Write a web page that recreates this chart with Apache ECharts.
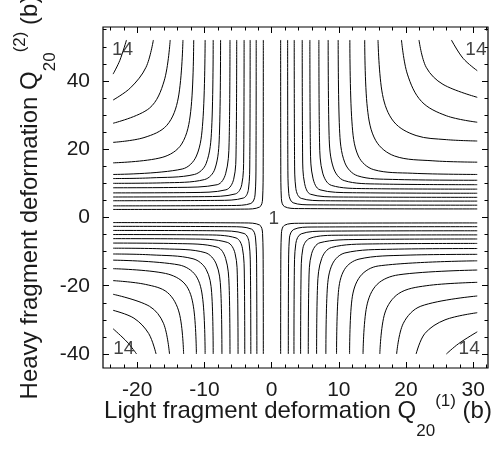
<!DOCTYPE html>
<html>
<head>
<meta charset="utf-8">
<script src="https://cdn.jsdelivr.net/npm/echarts@6/dist/echarts.min.js"></script>
<style>
  html, body { margin: 0; padding: 0; background: #fff; }
  #chart { width: 498px; height: 450px; }
</style>
</head>
<body>
<div id="chart"></div>
<script>
// Axis ticks (data units)
const xMajorTicks = [-20, -10, 0, 10, 20, 30];
const xMinorTicks = [-24, -22, -18, -16, -14, -12, -8, -6, -4, -2, 2, 4, 6, 8, 12, 14, 16, 18, 22, 24, 26, 28, 32];
const yMajorTicks = [-40, -20, 0, 20, 40];
const yMinorTicks = [-35, -30, -25, -15, -10, -5, 5, 10, 15, 25, 30, 35, 45, 50, 55];

// Contour levels, innermost (1) to outermost (14)
const contourLevels = [1, 2, 3, 4, 5, 6, 7, 8, 9, 10, 11, 12, 13, 14];

// Contour paths per quadrant, one polyline per level, [Q20(1), Q20(2)] in barn
const contoursUR = [
  [[1.34,52],[1.36,15],[1.45,5.5],[1.9,3.2],[4,2.6],[30.6,2.5]],
  [[2.38,52],[2.41,16],[2.55,7],[3.2,4.3],[6,3.7],[30.6,3.6]],
  [[3.36,52],[3.41,17],[3.6,8.5],[4.4,5.6],[8,4.9],[30.6,4.8]],
  [[4.55,52],[4.61,18],[4.9,10],[5.8,6.8],[10,6.0],[30.6,5.9]],
  [[5.69,52],[5.77,20],[6.15,11.5],[7.2,8.1],[12,7.25],[30.6,7.1]],
  [[7.03,52],[7.13,22],[7.6,13],[8.9,9.4],[14,8.45],[30.6,8.3]],
  [[8.41,52],[8.55,24],[9.2,14.5],[10.8,10.8],[16,9.8],[30.6,9.6]],
  [[9.90,52],[10.1,26],[10.9,16],[12.8,12.2],[18,11.15],[30.6,10.9]],
  [[11.64,52],[11.95,28],[12.9,18],[15.2,14],[21,12.95],[30.6,12.6]],
  [[13.85,52],[14.25,32],[15.5,22.5],[18.3,18],[24,16.6],[30.6,16.2]],
  [[15.83,52],[16.5,36],[18.2,28],[21.5,24],[26,22.8],[30.6,22.4]],
  [[19.32,52],[20.2,42],[22.3,34],[26,29.8],[30.6,27.9]],
  [[21.93,52],[23,44],[25.5,39],[30.6,35.2]],
  [[26.75,52],[28.5,46.6],[30.6,43.0]]
];
const contoursUL = [
  [[-1.24,52],[-1.26,15],[-1.35,5.4],[-1.8,3.05],[-4,2.45],[-23.6,2.35]],
  [[-2.3,52],[-2.33,16],[-2.47,6.6],[-3.1,4.1],[-6,3.5],[-23.6,3.4]],
  [[-3.2,52],[-3.25,17],[-3.45,8.3],[-4.2,5.7],[-8,5.0],[-23.6,4.9]],
  [[-4.1,52],[-4.16,18],[-4.45,9.6],[-5.4,6.9],[-10,6.1],[-23.6,6.0]],
  [[-5.2,52],[-5.29,20],[-5.65,11.2],[-6.8,8.1],[-12,7.3],[-23.6,7.2]],
  [[-6.2,52],[-6.33,22],[-6.85,12.8],[-8.1,9.6],[-14,8.8],[-23.6,8.7]],
  [[-7.6,52],[-7.78,24],[-8.45,14.2],[-10,11.1],[-16,10.15],[-23.6,10.0]],
  [[-8.7,52],[-8.93,26],[-9.75,15.8],[-11.5,12.6],[-18,11.6],[-23.6,11.4]],
  [[-9.9,52],[-10.25,28],[-11.2,18],[-13.3,14.2],[-23.6,12.6]],
  [[-11.6,52],[-12.05,31],[-13.4,21.5],[-16.3,17.6],[-23.6,16.0]],
  [[-13.2,52],[-13.9,35],[-15.6,27],[-19,23.4],[-23.6,22.0]],
  [[-15.1,52],[-16,40],[-18.2,32],[-23.6,27.6]],
  [[-17.6,52],[-18.7,44],[-21,38],[-23.6,34.4]],
  [[-21.6,52],[-22.6,46],[-23.6,42.0]]
];
const contoursLL = [
  [[-1.24,-40],[-1.26,-15],[-1.35,-4.7],[-1.8,-2.2],[-4,-1.6],[-23.6,-1.5]],
  [[-2.2,-40],[-2.23,-16],[-2.4,-6],[-3.0,-3.4],[-6,-2.7],[-23.6,-2.6]],
  [[-3.1,-40],[-3.15,-17],[-3.35,-7.5],[-4.1,-4.7],[-8,-3.9],[-23.6,-3.8]],
  [[-4.0,-40],[-4.06,-18],[-4.35,-9],[-5.3,-6.0],[-10,-5.1],[-23.6,-5.0]],
  [[-5.0,-40],[-5.09,-19],[-5.45,-10.5],[-6.6,-7.3],[-12,-6.3],[-23.6,-6.2]],
  [[-6.2,-40],[-6.33,-20],[-6.85,-12],[-8.1,-8.7],[-14,-7.65],[-23.6,-7.5]],
  [[-7.4,-40],[-7.58,-21],[-8.25,-13.6],[-9.9,-10.3],[-16,-9.2],[-23.6,-9.0]],
  [[-8.7,-40],[-8.93,-22],[-9.75,-15.2],[-11.7,-12.1],[-18,-10.95],[-23.6,-10.7]],
  [[-9.9,-40],[-10.25,-24],[-11.3,-17],[-13.8,-13.9],[-23.6,-12.5]],
  [[-11.2,-40],[-11.65,-26],[-12.9,-19.5],[-15.8,-16.4],[-23.6,-15.0]],
  [[-13.1,-40],[-13.75,-28],[-15.5,-22],[-18.8,-19.6],[-23.6,-18.5]],
  [[-15.2,-40],[-16.1,-31],[-18.2,-26],[-23.6,-22.5]],
  [[-17.2,-40],[-18.3,-34],[-20.5,-29.5],[-23.6,-27.2]],
  [[-20.1,-40],[-21.5,-36.5],[-23.6,-32.6]]
];
const contoursLR = [
  [[1.34,-40],[1.36,-15],[1.45,-4.8],[1.9,-2.3],[4,-1.7],[30.6,-1.6]],
  [[2.48,-40],[2.51,-16],[2.65,-6],[3.3,-3.5],[6,-2.8],[30.6,-2.7]],
  [[3.32,-40],[3.37,-17],[3.6,-7.6],[4.4,-4.8],[8,-4.0],[30.6,-3.9]],
  [[4.31,-40],[4.37,-18],[4.65,-9],[5.7,-6.1],[10,-5.2],[30.6,-5.1]],
  [[5.45,-40],[5.54,-19],[5.95,-10.6],[7.2,-7.4],[13,-6.45],[30.6,-6.3]],
  [[6.69,-40],[6.83,-20],[7.45,-12],[8.9,-8.8],[15,-7.75],[30.6,-7.6]],
  [[8.07,-40],[8.28,-21],[9.05,-13.6],[10.9,-10.4],[18,-9.3],[30.6,-9.1]],
  [[9.66,-40],[9.93,-22],[10.85,-15.2],[13,-12.2],[20,-11.05],[30.6,-10.8]],
  [[11.6,-40],[11.95,-24],[13.2,-17.2],[15.9,-14.2],[30.6,-12.7]],
  [[13.6,-40],[14.15,-26],[15.7,-19.6],[18.9,-16.8],[30.6,-15.4]],
  [[16.1,-40],[16.85,-28],[18.9,-22.3],[23,-20],[30.6,-19.0]],
  [[18.6,-40],[19.6,-31],[22.2,-26],[30.6,-23.0]],
  [[21.5,-40],[22.8,-34],[25.8,-30],[30.6,-27.9]],
  [[26.0,-40],[27.8,-37],[30.6,-33.5]]
];

// Level labels placed in the plot
const levelLabelText = ['1', '14', '14', '14', '14'];
const levelLabelPos = [[0.3, -0.3], [-22.2, 49.2], [30.4, 49.2], [-22.0, -38.4], [29.4, -38.4]];

const FONT = '"Liberation Sans", Arial, Helvetica, sans-serif';
const TEXT = '#1a1a1a';
const X_RANGE = [-25.1, 32.2];
const Y_RANGE = [-44.1, 55.8];

// Rich-text styles for the axis titles (subscript / superscript)
function titleStyle() {
  return {
    color: TEXT, fontFamily: FONT, fontSize: 24, lineHeight: 57,
    rich: {
      t: { fontSize: 24, fontFamily: FONT, color: TEXT, lineHeight: 57 },
      sub: { fontSize: 17, fontFamily: FONT, color: TEXT, lineHeight: 57, verticalAlign: 'bottom' },
      sup: { fontSize: 17, fontFamily: FONT, color: TEXT, lineHeight: 57, verticalAlign: 'top', padding: [10, 0, 0, 0] }
    }
  };
}

function xAxisDef(position, ticks, len, withLabels) {
  const ax = {
    type: 'value', position: position, min: X_RANGE[0], max: X_RANGE[1],
    axisLine: { show: false, onZero: false }, splitLine: { show: false },
    axisTick: { show: true, inside: true, length: len, customValues: ticks, lineStyle: { color: '#000', width: 1 } },
    axisLabel: { show: withLabels, customValues: ticks, fontSize: 21, fontFamily: FONT, color: TEXT, margin: 12 }
  };
  if (withLabels) {
    ax.name = '{t|Light fragment deformation Q}{sub|20}{sup|(1)}{t| (b)}';
    ax.nameLocation = 'middle';
    ax.nameGap = 15;
    ax.nameMoveOverlap = false;
    ax.nameTextStyle = titleStyle();
    ax.nameTextStyle.padding = [0, 0, 0, 5];
  }
  return ax;
}
function yAxisDef(position, ticks, len, withLabels) {
  const ax = {
    type: 'value', position: position, min: Y_RANGE[0], max: Y_RANGE[1],
    axisLine: { show: false, onZero: false }, splitLine: { show: false },
    axisTick: { show: true, inside: true, length: len, customValues: ticks, lineStyle: { color: '#000', width: 1 } },
    axisLabel: { show: withLabels, customValues: ticks, fontSize: 21, fontFamily: FONT, color: TEXT, margin: 13 }
  };
  if (withLabels) {
    ax.name = '{t|Heavy fragment deformation Q}{sub|20}{sup|(2)}{t| (b)}';
    ax.nameLocation = 'middle';
    ax.nameGap = 44;
    ax.nameMoveOverlap = false;
    ax.nameTextStyle = titleStyle();
  }
  return ax;
}

const series = [];
[contoursUR, contoursUL, contoursLL, contoursLR].forEach(function (quadrant) {
  quadrant.forEach(function (path, i) {
    series.push({
      type: 'line', name: 'level ' + contourLevels[i], data: path,
      xAxisIndex: 0, yAxisIndex: 0,
      showSymbol: false, symbol: 'none', smooth: 0.35, silent: true,
      lineStyle: { color: '#000', width: 1 }, animation: false
    });
  });
});
series.push({
  type: 'scatter', xAxisIndex: 0, yAxisIndex: 0, symbolSize: 0, silent: true, animation: false,
  data: levelLabelPos.map(function (p, i) { return [p[0], p[1], levelLabelText[i]]; }),
  label: {
    show: true, position: 'inside', fontSize: 19, fontFamily: FONT, color: '#111',
    formatter: function (p) { return p.value[2]; }
  },
  z: 5
});

const chart = echarts.init(document.getElementById('chart'), null, { renderer: 'canvas' });
chart.setOption({
  backgroundColor: '#fff',
  animation: false,
  grid: {
    left: 103, right: 10, top: 27, bottom: 82, containLabel: false, outerBoundsMode: 'none',
    show: true, borderColor: '#000', borderWidth: 1.2, backgroundColor: 'transparent'
  },
  xAxis: [
    xAxisDef('bottom', xMajorTicks, 6, true),
    xAxisDef('bottom', xMinorTicks, 3.5, false),
    xAxisDef('top', xMajorTicks, 6, false),
    xAxisDef('top', xMinorTicks, 3.5, false)
  ],
  yAxis: [
    yAxisDef('left', yMajorTicks, 6, true),
    yAxisDef('left', yMinorTicks, 3.5, false),
    yAxisDef('right', yMajorTicks, 6, false),
    yAxisDef('right', yMinorTicks, 3.5, false)
  ],
  series: series
});
</script>
</body>
</html>
